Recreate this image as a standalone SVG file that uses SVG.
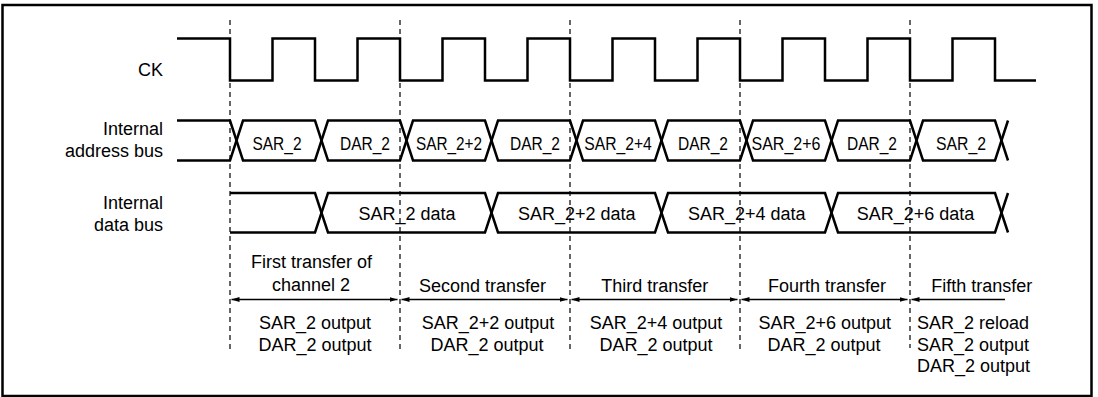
<svg xmlns="http://www.w3.org/2000/svg" width="1098" height="397" viewBox="0 0 1098 397">
<style>
text{font-family:"Liberation Sans",Arial,Helvetica,sans-serif;font-size:18px;fill:#000}
.m{text-anchor:middle}
.e{text-anchor:end}
.w{fill:none;stroke:#000;stroke-width:2.5;stroke-linejoin:miter}
.d{fill:none;stroke:#000;stroke-width:1.2;stroke-dasharray:5 4}
.a{fill:none;stroke:#000;stroke-width:1.3}
</style>
<defs>
<marker id="ah" viewBox="0 -3 8 6" refX="8" refY="0" markerWidth="8" markerHeight="6" markerUnits="userSpaceOnUse" orient="auto-start-reverse">
<path d="M0,-2.5 L8,0 L0,2.5 z" fill="#000"/>
</marker>
</defs>
<rect x="2.5" y="5" width="1089" height="391" fill="#fff" stroke="#000" stroke-width="2.5"/>

<g id="connectors">
<g id="dashed-guides">
<line class="d" x1="230" y1="20" x2="230" y2="353"/>
<line class="d" x1="400" y1="20" x2="400" y2="353"/>
<line class="d" x1="570" y1="20" x2="570" y2="353"/>
<line class="d" x1="740" y1="20" x2="740" y2="353"/>
<line class="d" x1="910" y1="20" x2="910" y2="348"/>
</g>
<g id="transfer-arrows">
<line class="a" x1="231.5" y1="299.5" x2="397.5" y2="299.5" marker-start="url(#ah)" marker-end="url(#ah)"/>
<line class="a" x1="401.5" y1="299.5" x2="567.5" y2="299.5" marker-start="url(#ah)" marker-end="url(#ah)"/>
<line class="a" x1="571.5" y1="299.5" x2="737.5" y2="299.5" marker-start="url(#ah)" marker-end="url(#ah)"/>
<line class="a" x1="741.5" y1="299.5" x2="907.5" y2="299.5" marker-start="url(#ah)" marker-end="url(#ah)"/>
<line class="a" x1="911.5" y1="299.5" x2="1005" y2="299.5" marker-start="url(#ah)"/>
</g>
</g>

<g id="ck">
<text class="e" x="163" y="76">CK</text>
<path class="w" d="M177,38.5 H230 V80.5 H272.5 V38.5 H315 V80.5 H357.5 V38.5 H400 V80.5 H442.5 V38.5 H485 V80.5 H527.5 V38.5 H570 V80.5 H612.5 V38.5 H655 V80.5 H697.5 V38.5 H740 V80.5 H782.5 V38.5 H825 V80.5 H867.5 V38.5 H910 V80.5 H952.5 V38.5 H995 V80.5 H1036"/>
</g>

<g id="address-bus">
<text class="e" x="163" y="135">Internal</text>
<text class="e" x="163" y="157">address bus</text>
<path class="w" d="M177,120.5 H230 L243,160.5 H315 L328,120.5 H400 L413,160.5 H485 L498,120.5 H570 L583,160.5 H655 L668,120.5 H740 L753,160.5 H825 L838,120.5 H910 L923,160.5 H995 L1008,120.5"/>
<path class="w" d="M177,160.5 H230 L243,120.5 H315 L328,160.5 H400 L413,120.5 H485 L498,160.5 H570 L583,120.5 H655 L668,160.5 H740 L753,120.5 H825 L838,160.5 H910 L923,120.5 H995 L1008,160.5"/>
<text class="m" x="277" y="149.5" textLength="49" lengthAdjust="spacingAndGlyphs">SAR_2</text>
<text class="m" x="365" y="149.5" textLength="50" lengthAdjust="spacingAndGlyphs">DAR_2</text>
<text class="m" x="449" y="149.5" textLength="66" lengthAdjust="spacingAndGlyphs">SAR_2+2</text>
<text class="m" x="535" y="149.5" textLength="50" lengthAdjust="spacingAndGlyphs">DAR_2</text>
<text class="m" x="618" y="149.5" textLength="67.5" lengthAdjust="spacingAndGlyphs">SAR_2+4</text>
<text class="m" x="703" y="149.5" textLength="50" lengthAdjust="spacingAndGlyphs">DAR_2</text>
<text class="m" x="786" y="149.5" textLength="69" lengthAdjust="spacingAndGlyphs">SAR_2+6</text>
<text class="m" x="872" y="149.5" textLength="50" lengthAdjust="spacingAndGlyphs">DAR_2</text>
<text class="m" x="961" y="149.5" textLength="50" lengthAdjust="spacingAndGlyphs">SAR_2</text>
</g>

<g id="data-bus">
<text class="e" x="163" y="209.3">Internal</text>
<text class="e" x="163" y="230.7">data bus</text>
<path class="w" d="M230,193 H315 L328,232.5 H485 L498,193 H655 L668,232.5 H825 L838,193 H995 L1008,232.5"/>
<path class="w" d="M230,232.5 H315 L328,193 H485 L498,232.5 H655 L668,193 H825 L838,232.5 H995 L1008,193"/>
<text class="m" x="407" y="219.5">SAR_2 data</text>
<text class="m" x="576.7" y="219.5">SAR_2+2 data</text>
<text class="m" x="746.7" y="219.5">SAR_2+4 data</text>
<text class="m" x="915.5" y="219.5">SAR_2+6 data</text>
</g>

<g id="transfer-1">
<text class="m" x="311.5" y="267.5">First transfer of</text>
<text class="m" x="311" y="290.5">channel 2</text>
<text class="m" x="315" y="329">SAR_2 output</text>
<text class="m" x="315" y="350.7">DAR_2 output</text>
</g>
<g id="transfer-2">
<text class="m" x="482.5" y="292">Second transfer</text>
<text class="m" x="488" y="329">SAR_2+2 output</text>
<text class="m" x="487" y="350.7">DAR_2 output</text>
</g>
<g id="transfer-3">
<text class="m" x="654.7" y="292">Third transfer</text>
<text class="m" x="656" y="329">SAR_2+4 output</text>
<text class="m" x="656" y="350.7">DAR_2 output</text>
</g>
<g id="transfer-4">
<text class="m" x="827" y="292">Fourth transfer</text>
<text class="m" x="824.7" y="329">SAR_2+6 output</text>
<text class="m" x="824" y="350.7">DAR_2 output</text>
</g>
<g id="transfer-5">
<text class="m" x="981.7" y="292">Fifth transfer</text>
<text x="917" y="328.5">SAR_2 reload</text>
<text x="917" y="350.5">SAR_2 output</text>
<text x="917" y="372">DAR_2 output</text>
</g>
</svg>
